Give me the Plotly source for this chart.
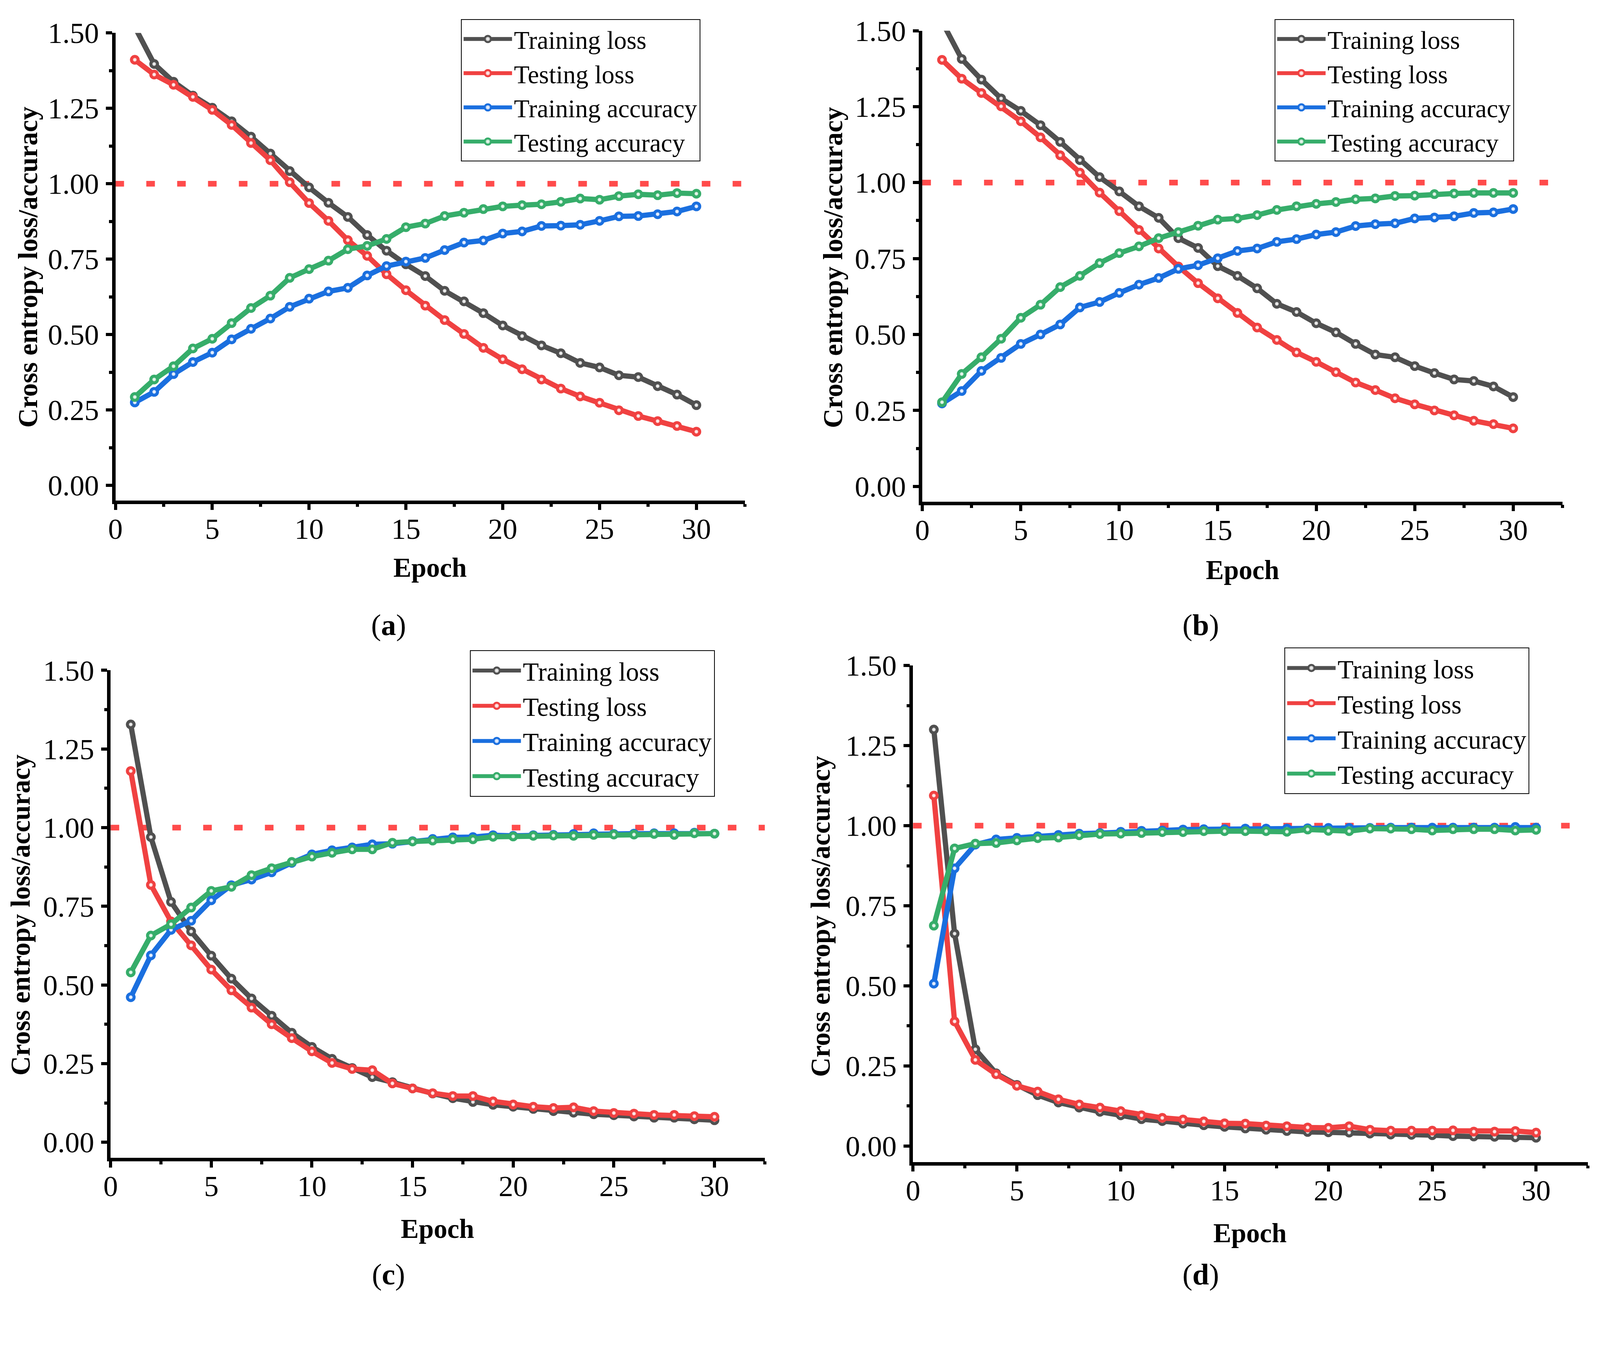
import plotly.graph_objects as go

# ---------------- data ----------------
epochs = list(range(1, 31))
series_names = ["Training loss", "Testing loss", "Training accuracy", "Testing accuracy"]

a_train_loss = [1.52, 1.397, 1.338, 1.292, 1.252, 1.207, 1.156, 1.100, 1.042, 0.988,
                0.937, 0.890, 0.830, 0.778, 0.733, 0.694, 0.645, 0.610, 0.571, 0.530,
                0.495, 0.464, 0.438, 0.406, 0.391, 0.365, 0.359, 0.329, 0.301, 0.266]
a_test_loss = [1.411, 1.362, 1.328, 1.288, 1.245, 1.195, 1.135, 1.078, 1.005, 0.936,
               0.877, 0.813, 0.761, 0.700, 0.647, 0.596, 0.548, 0.502, 0.456, 0.418,
               0.385, 0.351, 0.321, 0.295, 0.274, 0.249, 0.230, 0.213, 0.197, 0.178]
a_train_acc = [0.275, 0.310, 0.369, 0.409, 0.440, 0.484, 0.519, 0.553, 0.592, 0.619,
               0.643, 0.655, 0.696, 0.727, 0.742, 0.754, 0.780, 0.805, 0.812, 0.835,
               0.842, 0.860, 0.861, 0.864, 0.877, 0.892, 0.893, 0.899, 0.908, 0.925]
a_test_acc = [0.293, 0.351, 0.395, 0.454, 0.486, 0.538, 0.588, 0.629, 0.688, 0.717,
              0.745, 0.783, 0.794, 0.817, 0.856, 0.868, 0.893, 0.904, 0.916, 0.925,
              0.929, 0.932, 0.940, 0.951, 0.947, 0.959, 0.965, 0.962, 0.969, 0.967]

b_train_loss = [1.53, 1.407, 1.339, 1.277, 1.236, 1.189, 1.134, 1.074, 1.018, 0.971,
                0.922, 0.884, 0.817, 0.785, 0.725, 0.693, 0.652, 0.601, 0.574, 0.537,
                0.507, 0.469, 0.434, 0.425, 0.396, 0.373, 0.352, 0.347, 0.329, 0.294]
b_test_loss = [1.404, 1.342, 1.295, 1.251, 1.202, 1.149, 1.090, 1.033, 0.967, 0.906,
               0.844, 0.783, 0.724, 0.669, 0.619, 0.571, 0.523, 0.482, 0.441, 0.410,
               0.376, 0.342, 0.317, 0.290, 0.270, 0.250, 0.234, 0.216, 0.205, 0.191]
b_train_acc = [0.273, 0.314, 0.380, 0.423, 0.469, 0.500, 0.533, 0.589, 0.607, 0.637,
               0.664, 0.686, 0.716, 0.728, 0.751, 0.775, 0.783, 0.805, 0.814, 0.829,
               0.837, 0.857, 0.863, 0.866, 0.882, 0.885, 0.889, 0.900, 0.902, 0.913]
b_test_acc = [0.277, 0.370, 0.425, 0.486, 0.555, 0.598, 0.656, 0.693, 0.735, 0.768,
              0.790, 0.817, 0.837, 0.858, 0.878, 0.882, 0.893, 0.910, 0.922, 0.930,
              0.936, 0.945, 0.948, 0.956, 0.957, 0.962, 0.964, 0.966, 0.966, 0.966]

c_train_loss = [1.328, 0.970, 0.764, 0.670, 0.593, 0.520, 0.457, 0.402, 0.348, 0.303,
                0.265, 0.236, 0.207, 0.191, 0.171, 0.155, 0.140, 0.128, 0.119, 0.113,
                0.106, 0.099, 0.094, 0.089, 0.086, 0.082, 0.078, 0.078, 0.073, 0.070]
c_test_loss = [1.180, 0.818, 0.702, 0.626, 0.549, 0.483, 0.428, 0.375, 0.331, 0.289,
               0.252, 0.233, 0.229, 0.187, 0.171, 0.156, 0.147, 0.147, 0.130, 0.120,
               0.113, 0.109, 0.111, 0.099, 0.093, 0.091, 0.087, 0.087, 0.083, 0.081]
c_train_acc = [0.461, 0.594, 0.675, 0.704, 0.769, 0.817, 0.835, 0.858, 0.888, 0.915,
               0.928, 0.937, 0.947, 0.949, 0.957, 0.964, 0.969, 0.970, 0.976, 0.974,
               0.976, 0.977, 0.980, 0.982, 0.980, 0.981, 0.982, 0.982, 0.984, 0.981]
c_test_acc = [0.540, 0.657, 0.693, 0.746, 0.799, 0.812, 0.849, 0.871, 0.891, 0.908,
              0.920, 0.931, 0.931, 0.952, 0.956, 0.959, 0.963, 0.963, 0.971, 0.972,
              0.974, 0.975, 0.974, 0.977, 0.978, 0.978, 0.980, 0.977, 0.982, 0.981]

d_train_loss = [1.300, 0.663, 0.302, 0.227, 0.191, 0.159, 0.136, 0.120, 0.107, 0.096,
                0.084, 0.078, 0.070, 0.065, 0.060, 0.055, 0.051, 0.047, 0.044, 0.043,
                0.042, 0.039, 0.036, 0.035, 0.034, 0.031, 0.030, 0.029, 0.027, 0.026]
d_test_loss = [1.094, 0.389, 0.269, 0.224, 0.188, 0.170, 0.146, 0.130, 0.120, 0.109,
               0.096, 0.088, 0.083, 0.077, 0.071, 0.070, 0.064, 0.062, 0.058, 0.057,
               0.062, 0.051, 0.048, 0.048, 0.048, 0.049, 0.045, 0.045, 0.047, 0.042]
d_train_acc = [0.507, 0.867, 0.941, 0.957, 0.962, 0.967, 0.971, 0.975, 0.977, 0.981,
               0.984, 0.985, 0.988, 0.989, 0.989, 0.991, 0.991, 0.991, 0.992, 0.993,
               0.993, 0.993, 0.994, 0.994, 0.994, 0.994, 0.994, 0.994, 0.996, 0.994]
d_test_acc = [0.688, 0.929, 0.944, 0.946, 0.954, 0.961, 0.963, 0.970, 0.974, 0.975,
              0.977, 0.980, 0.980, 0.983, 0.983, 0.983, 0.983, 0.981, 0.988, 0.984,
              0.983, 0.991, 0.991, 0.989, 0.985, 0.989, 0.989, 0.989, 0.985, 0.987]

reference_level = 1.0
panel_letters = ["a", "b", "c", "d"]
x_title = "Epoch"
y_title = "Cross entropy loss/accuracy"

# ---------------- style / layout ----------------
# The photographed page comes out slightly enlarged and offset, so target
# positions (measured on the 4294x3483 reference) are mapped back to CSS px.
SX, SY, SZ = 1.049, 1.035, 1.043
OX, OY = 20, 49
W = int(round((4294 - OX) / SX))
H = int(round((3483 - OY) / SY))


def z(v):
    return v / SZ


def px(xo):
    return ((xo - OX) / SX) / W


def py(yo):
    return 1 - max(0.0, (yo - OY) / SY) / H


FONT = "Liberation Serif"
line_colors = ["#505050", "#f04141", "#1a6fdf", "#36ad6a"]
tint_colors = ["#9c9c9c", "#f48e8e", "#82aff0", "#82cc9f"]

panel_data = [
    [a_train_loss, a_test_loss, a_train_acc, a_test_acc],
    [b_train_loss, b_test_loss, b_train_acc, b_test_acc],
    [c_train_loss, c_test_loss, c_train_acc, c_test_acc],
    [d_train_loss, d_test_loss, d_train_acc, d_test_acc],
]
# plot-area boxes in reference pixels: left, top, right, bottom
boxes = [(303, 86, 2001, 1341), (2480, 80, 4207, 1344),
         (290, 1797, 2055, 3106), (2455, 1784, 4276, 3117)]
legend_pos = [(1235, 31), (3430, 26), (1259, 1743), (3457, 1736)]
legend_font = [65, 65, 67, 67]
ytitle_pos = [(67, 715), (2240, 715), (47, 2454), (2206, 2457)]
xtitle_pos = [(1152, 1521), (3344, 1527), (1172, 3296), (3364, 3307)]
label_pos = [(1040, 1675), (3231, 1675), (1040, 3419), (3231, 3419)]

fig = go.Figure()
layout = dict(
    width=W, height=H,
    margin=dict(l=0, r=0, t=0, b=0),
    paper_bgcolor="white", plot_bgcolor="white",
    font=dict(family=FONT, color="black", size=z(78)),
    showlegend=True,
)
shapes = []
annotations = []

tick_common = dict(ticks="outside", ticklen=z(16), tickwidth=z(8), tickcolor="black",
                   showline=True, linewidth=z(9), linecolor="black",
                   showgrid=False, zeroline=False,
                   tickfont=dict(family=FONT, size=z(78), color="black"))

for i, series in enumerate(panel_data):
    n = i + 1
    sfx = "" if n == 1 else str(n)
    leg = "legend" + sfx
    for k, vals in enumerate(series):
        fig.add_trace(go.Scatter(
            x=epochs, y=vals, name=series_names[k], mode="lines+markers",
            xaxis="x" + sfx, yaxis="y" + sfx, legend=leg,
            line=dict(color=line_colors[k], width=z(14)),
            marker=dict(size=z(18), color=tint_colors[k],
                        gradient=dict(type="radial", color="white"),
                        line=dict(color=line_colors[k], width=z(8))),
            cliponaxis=True,
        ))
    l, t, r, b = boxes[i]
    layout["xaxis" + sfx] = dict(
        domain=[px(l), px(r)], anchor="y" + sfx, range=[0, 32.5],
        tick0=0, dtick=5, ticklabelstandoff=-16,
        minor=dict(dtick=2.5, ticks="outside", ticklen=z(8), tickwidth=z(8),
                   tickcolor="black", showgrid=False),
        **tick_common,
    )
    layout["yaxis" + sfx] = dict(
        domain=[py(b), py(t)], anchor="x" + sfx, range=[-0.05, 1.5],
        tick0=0, dtick=0.25, tickformat=".2f", ticklabelstandoff=3,
        minor=dict(dtick=0.125, ticks="outside", ticklen=z(8), tickwidth=z(8),
                   tickcolor="black", showgrid=False),
        **tick_common,
    )
    lx, ly = legend_pos[i]
    layout[leg] = dict(
        x=px(lx), y=min(1.0, py(ly)), xanchor="left", yanchor="top",
        bgcolor="white", bordercolor="black", borderwidth=2,
        font=dict(family=FONT, size=legend_font[i], color="black"),
        itemwidth=int(z(130)), tracegroupgap=0,
    )
    shapes.append(dict(
        type="line", xref="x" + sfx + " domain", yref="y" + sfx,
        x0=0, x1=1, y0=reference_level, y1=reference_level,
        line=dict(color="#ff4b4b", width=z(15), dash="22px,57px"), layer="below",
    ))
    yx, yy = ytitle_pos[i]
    annotations.append(dict(
        text=y_title, x=px(yx), y=py(yy), xref="paper", yref="paper",
        textangle=-90, showarrow=False, xanchor="center", yanchor="middle",
        font=dict(family=FONT, size=z(72), color="black", weight="bold"),
    ))
    xx, xy = xtitle_pos[i]
    annotations.append(dict(
        text=x_title, x=px(xx), y=py(xy), xref="paper", yref="paper",
        showarrow=False, xanchor="center", yanchor="middle",
        font=dict(family=FONT, size=z(72), color="black", weight="bold"),
    ))
    lbx, lby = label_pos[i]
    annotations.append(dict(
        text="(<b>" + panel_letters[i] + "</b>)", x=px(lbx), y=py(lby),
        xref="paper", yref="paper", showarrow=False,
        xanchor="center", yanchor="middle",
        font=dict(family=FONT, size=z(80), color="black"),
    ))

layout["shapes"] = shapes
layout["annotations"] = annotations
fig.update_layout(**layout)
fig.write_html("out.html")
